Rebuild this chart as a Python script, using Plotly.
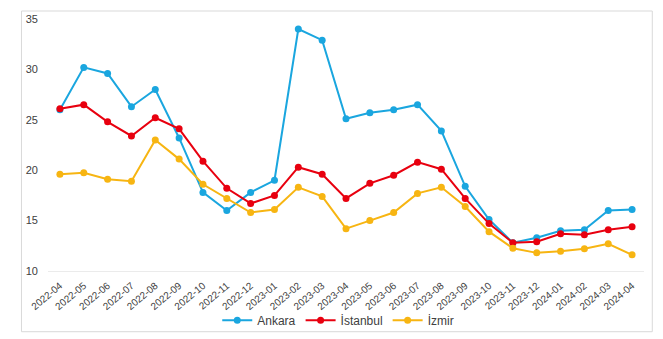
import plotly.graph_objects as go

months = ["2022-04", "2022-05", "2022-06", "2022-07", "2022-08", "2022-09", "2022-10",
          "2022-11", "2022-12", "2023-01", "2023-02", "2023-03", "2023-04", "2023-05",
          "2023-06", "2023-07", "2023-08", "2023-09", "2023-10", "2023-11", "2023-12",
          "2024-01", "2024-02", "2024-03", "2024-04"]

ankara = [26.0, 30.2, 29.6, 26.3, 28.0, 23.2, 17.8, 16.0, 17.8, 19.0, 34.0, 32.9, 25.1,
          25.7, 26.0, 26.5, 23.9, 18.4, 15.1, 12.8, 13.3, 14.0, 14.1, 16.0, 16.1]
istanbul = [26.1, 26.5, 24.8, 23.4, 25.2, 24.1, 20.9, 18.2, 16.7, 17.5, 20.3, 19.6, 17.2,
            18.7, 19.5, 20.8, 20.1, 17.2, 14.7, 12.8, 12.9, 13.7, 13.6, 14.1, 14.4]
izmir = [19.6, 19.75, 19.1, 18.9, 23.0, 21.1, 18.6, 17.2, 15.8, 16.1, 18.3, 17.4, 14.2,
         15.0, 15.8, 17.7, 18.3, 16.4, 13.9, 12.25, 11.8, 11.95, 12.2, 12.7, 11.6]

series = [("Ankara", ankara, "#1AA6DF"),
          ("İstanbul", istanbul, "#E8000F"),
          ("İzmir", izmir, "#F7B512")]

fig = go.Figure()
for name, vals, col in series:
    fig.add_trace(go.Scatter(x=months, y=vals, name=name, mode="lines+markers",
                             line=dict(color=col, width=2),
                             marker=dict(color=col, size=7)))

fig.update_layout(
    width=663, height=339,
    margin=dict(l=48, r=19, t=19, b=68, autoexpand=False),
    paper_bgcolor="white", plot_bgcolor="white",
    font=dict(family="Liberation Sans, Arial, sans-serif", color="#404040", size=11),
    showlegend=True,
    legend=dict(orientation="h", x=0.487, xanchor="center", y=-0.195, yanchor="middle",
                font=dict(size=12, color="#404040"), itemwidth=30,
                bgcolor="rgba(0,0,0,0)"),
    xaxis=dict(type="category", range=[-0.5, 24.5], tickangle=-40, showgrid=False,
               showline=True, linecolor="#ebebeb", linewidth=1, ticks="",
               automargin=False, ticklabelstandoff=4,
               tickfont=dict(size=10, color="#404040")),
    yaxis=dict(range=[10, 35], dtick=5, showgrid=False, zeroline=False, ticks="",
               automargin=False, ticklabelstandoff=9,
               tickfont=dict(size=11, color="#404040")),
    shapes=[dict(type="rect", xref="paper", yref="paper",
                 x0=-0.0445, x1=1.0139, y0=-0.2409, y1=1.0317,
                 line=dict(color="#d9d9d9", width=1), fillcolor="rgba(0,0,0,0)",
                 layer="below")],
)

fig.write_html("out.html")
